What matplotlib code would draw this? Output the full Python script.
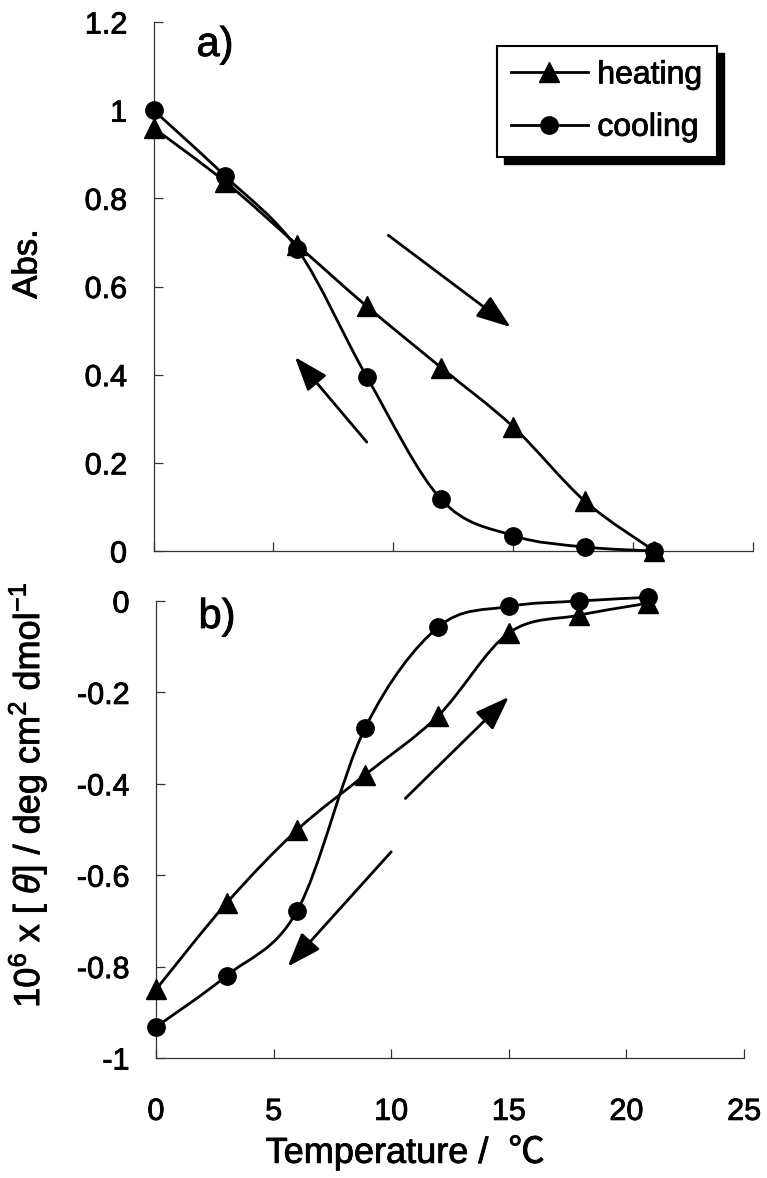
import matplotlib
matplotlib.use('Agg')
import matplotlib.pyplot as plt
import matplotlib.patheffects as pe
from matplotlib.path import Path
from matplotlib.patches import PathPatch, Rectangle
from matplotlib.lines import Line2D

plt.rcParams['font.family'] = ['Liberation Sans', 'Noto Sans CJK JP', 'DejaVu Sans']
plt.rcParams['mathtext.fontset'] = 'custom'
plt.rcParams['mathtext.rm'] = 'Liberation Sans'
plt.rcParams['mathtext.it'] = 'Liberation Sans:italic'

# data
temp = [0, 3, 6, 8.9, 12, 15, 18, 20.9]
abs_heat = [0.96, 0.837, 0.694, 0.555, 0.416, 0.282, 0.113, 0.0]
abs_cool = [1.0, 0.85, 0.685, 0.395, 0.117, 0.035, 0.009, 0.0]
cd_heat = [-0.85, -0.661, -0.501, -0.380, -0.251, -0.070, -0.031, -0.005]
cd_cool = [-0.932, -0.820, -0.678, -0.277, -0.057, -0.012, 0.0, 0.008]

xticks = [0, 5, 10, 15, 20, 25]
abs_ticks = [0, 0.2, 0.4, 0.6, 0.8, 1.0, 1.2]
abs_labels = ['0', '0.2', '0.4', '0.6', '0.8', '1', '1.2']
cd_ticks = [-1, -0.8, -0.6, -0.4, -0.2, 0]
cd_labels = ['-1', '-0.8', '-0.6', '-0.4', '-0.2', '0']

# direction arrows (tail, tip) in data units
arrows_a = [((9.8, 0.716), (14.9, 0.508)), ((8.9, 0.247), (5.9, 0.44))]
arrows_b = [((10.6, -0.432), (15.0, -0.21)), ((10.0, -0.549), (5.6, -0.80))]

W, H = 767, 1178
thick = [pe.withStroke(linewidth=0.6, foreground='black')]


def smooth_path(x, y):
    # excel-like smoothed line (catmull-rom bezier)
    n = len(x)
    verts = [(x[0], y[0])]
    codes = [Path.MOVETO]
    for i in range(n - 1):
        xa, ya = (x[i - 1], y[i - 1]) if i > 0 else (x[i], y[i])
        xb, yb = (x[i + 2], y[i + 2]) if i + 2 < n else (x[i + 1], y[i + 1])
        c1 = (x[i] + (x[i + 1] - xa) / 6, y[i] + (y[i + 1] - ya) / 6)
        c2 = (x[i + 1] - (xb - x[i]) / 6, y[i + 1] - (yb - y[i]) / 6)
        verts += [c1, c2, (x[i + 1], y[i + 1])]
        codes += [Path.CURVE4] * 3
    return Path(verts, codes)


def draw_series(ax, x, y, marker, ms):
    ax.add_patch(PathPatch(smooth_path(x, y), fc='none', ec='black', lw=2.0,
                           clip_on=False, zorder=3))
    ax.plot(x, y, ls='none', marker=marker, ms=ms, color='black',
            clip_on=False, zorder=4)


def style_axis(ax):
    for s in ['top', 'right']:
        ax.spines[s].set_visible(False)
    for s in ['left', 'bottom']:
        ax.spines[s].set_linewidth(0.9)
        ax.spines[s].set_color('#333333')
    ax.tick_params(direction='in', length=6.5, width=0.9, color='#333333',
                   labelsize=22)
    ax.tick_params(axis='y', pad=19)
    ax.tick_params(axis='x', pad=28)
    for lab in ax.get_xticklabels() + ax.get_yticklabels():
        lab.set_path_effects(thick)


def draw_arrows(ax, arrows):
    for tail, tip in arrows:
        ax.annotate('', xy=tip, xytext=tail,
                    arrowprops=dict(arrowstyle='-|>,head_length=1.05,head_width=0.38',
                                    mutation_scale=20, color='black', lw=2.0,
                                    shrinkA=0, shrinkB=0))


fig = plt.figure(figsize=(W / 100, H / 100), dpi=100)

ax1 = fig.add_axes([153.5 / W, 1 - 551 / H, (752.7 - 153.5) / W, (551 - 22) / H])
ax2 = fig.add_axes([156 / W, 1 - 1058 / H, (744 - 156) / W, (1058 - 601) / H])

# panel a
draw_series(ax1, temp, abs_heat, '^', 14.5)
draw_series(ax1, temp, abs_cool, 'o', 12.5)
ax1.set_xlim(0, 25)
ax1.set_ylim(0, 1.2)
ax1.set_xticks(xticks)
ax1.set_yticks(abs_ticks)
ax1.set_yticklabels(abs_labels)
style_axis(ax1)
ax1.tick_params(axis='x', labelbottom=False)
draw_arrows(ax1, arrows_a)

handles = [Line2D([], [], color='black', lw=2.0, marker='^', ms=14.5),
           Line2D([], [], color='black', lw=2.0, marker='o', ms=12.5)]
leg = ax1.legend(handles, ['heating', 'cooling'], loc='upper left',
                 bbox_to_anchor=(496.7 / W, 1 - 46 / H), bbox_transform=fig.transFigure,
                 borderaxespad=0, fontsize=23, handlelength=2.4, handletextpad=0.3,
                 borderpad=0.45, labelspacing=0.7, fancybox=False, framealpha=1,
                 edgecolor='black')
leg.get_frame().set_linewidth(1.5)
for t in leg.get_texts():
    t.set_path_effects(thick)

# panel b
draw_series(ax2, temp, cd_heat, '^', 14.5)
draw_series(ax2, temp, cd_cool, 'o', 12.5)
ax2.set_xlim(0, 25)
ax2.set_ylim(-1, 0)
ax2.set_xticks(xticks)
ax2.set_xticklabels([str(t) for t in xticks])
ax2.set_yticks(cd_ticks)
ax2.set_yticklabels(cd_labels)
style_axis(ax2)
draw_arrows(ax2, arrows_b)

texts = [
    fig.text(215 / W, 1 - 45 / H, 'a)', ha='center', va='center', fontsize=30),
    fig.text(217 / W, 1 - 617 / H, 'b)', ha='center', va='center', fontsize=30),
    fig.text(27 / W, 1 - 264 / H, 'Abs.', rotation=90, ha='center', va='center',
             fontsize=25),
    fig.text(27 / W, 1 - 795 / H,
             r'10$^{6}$ x [ $\mathit{\theta}$] / deg cm$^{2}$ dmol$^{\mathregular{-1}}$',
             rotation=90, ha='center', va='center', fontsize=26),
    fig.text(405 / W, 1 - 1153 / H, 'Temperature /  ℃', ha='center', va='center',
             fontsize=26),
]
for t in texts:
    t.set_path_effects(thick)

# legend drop shadow
fig.canvas.draw()
bb = leg.get_window_extent()
ax1.add_patch(Rectangle(((bb.x0 + 7) / W, (bb.y0 - 7) / H), bb.width / W, bb.height / H,
                        transform=fig.transFigure, color='black', zorder=4.9,
                        clip_on=False))

fig.savefig('out.png', dpi=100)
